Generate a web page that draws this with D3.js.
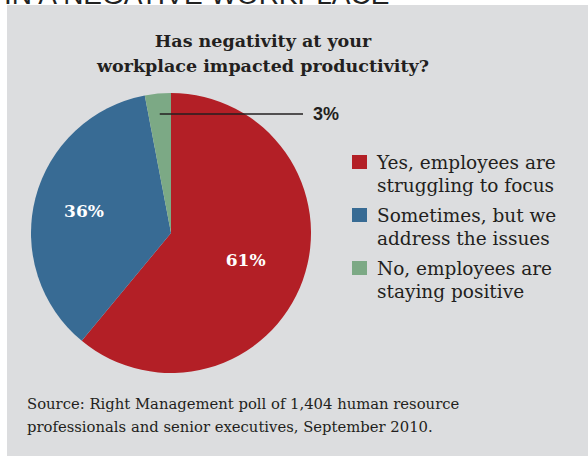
<!DOCTYPE html>
<html>
<head>
<meta charset="utf-8">
<script src="https://cdn.jsdelivr.net/npm/d3@7"></script>
<style>
  html, body { margin:0; padding:0; background:#fff; }
  svg { display:block; }
</style>
</head>
<body>
<div id="chart"></div>
<script>
// data (percent)
const categories = ["Yes", "Sometimes", "No"];
const values = [61, 36, 3];
const legendLines = [
  ["Yes, employees are", "struggling to focus"],
  ["Sometimes, but we", "address the issues"],
  ["No, employees are", "staying positive"]
];
const titleLines = ["Has negativity at your", "workplace impacted productivity?"];
const sourceLines = [
  "Source: Right Management poll of 1,404 human resource",
  "professionals and senior executives, September 2010."
];

const W = 588, H = 456;
const color = d3.scaleOrdinal().domain(categories).range(["#b31f26", "#386b94", "#7ca985"]);
const serif = "'DejaVu Serif', serif";
const sans = "'Liberation Sans', Arial, sans-serif";

const svg = d3.select('#chart').append('svg').attr('width', W).attr('height', H);

// heading above the panel (cut off in the original crop)
svg.append('text').attr('x', 4).attr('y', 4)
  .style('font-family', sans).style('font-size', '28px')
  .attr('fill', '#222').text('IN A NEGATIVE WORKPLACE');

// grey panel
svg.append('rect').attr('x', 7).attr('y', 5).attr('width', W - 7).attr('height', H - 5).attr('fill', '#dcdddf');

// title
svg.append('g').selectAll('text').data(titleLines).enter().append('text')
  .attr('x', 263).attr('y', (d, i) => 47 + i * 25)
  .attr('text-anchor', 'middle')
  .style('font-family', serif).style('font-weight', 'bold').style('font-size', '17.5px')
  .attr('fill', '#231f20').text(d => d);

// pie
const cx = 171, cy = 233, R = 140;
const total = d3.sum(values);
const pie = d3.pie().value(d => d.value).sort(null);
const arc = d3.arc().innerRadius(0).outerRadius(R);
const pieData = pie(categories.map((c, i) => ({ key: c, value: values[i] })));
// bigger slices get their label a bit nearer the centre
const labelPos = d => {
  const r = R * (0.75 - 0.3 * d.data.value / total);
  return d3.arc().innerRadius(r).outerRadius(r).centroid(d);
};

const g = svg.append('g').attr('transform', `translate(${cx},${cy})`);
g.selectAll('path').data(pieData).enter().append('path')
  .attr('d', arc).attr('fill', d => color(d.data.key));

g.selectAll('text.lbl').data(pieData.filter(d => d.data.value > 10)).enter().append('text')
  .attr('class', 'lbl')
  .attr('x', d => labelPos(d)[0])
  .attr('y', d => labelPos(d)[1])
  .attr('dy', '0.35em').attr('text-anchor', 'middle')
  .style('font-family', serif).style('font-weight', 'bold').style('font-size', '17px')
  .attr('fill', '#fff').text(d => d.data.value + '%');

// callout for the small slice
const small = pieData.filter(d => d.data.value <= 10);
small.forEach(d => {
  const mid = (d.startAngle + d.endAngle) / 2;
  const ly = -119;
  const lx = -ly * Math.tan(mid);
  g.append('line').attr('x1', lx).attr('y1', ly).attr('x2', 132).attr('y2', ly)
    .attr('stroke', '#231f20').attr('stroke-width', 1.3);
  g.append('text').attr('x', 142).attr('y', ly).attr('dy', '0.36em')
    .style('font-family', sans).style('font-weight', 'bold').style('font-size', '18px')
    .attr('fill', '#231f20').text(d.data.value + '%');
});

// legend
const lg = svg.append('g').attr('transform', 'translate(352,0)');
const item = lg.selectAll('g').data(categories).enter().append('g')
  .attr('transform', (d, i) => `translate(0,${155 + i * 53})`);
item.append('rect').attr('width', 15).attr('height', 14).attr('fill', d => color(d));
item.each(function(d, i) {
  d3.select(this).selectAll('text').data(legendLines[i]).enter().append('text')
    .attr('x', 25).attr('y', (t, j) => 14 + j * 23)
    .style('font-family', serif).style('font-size', '18.5px')
    .attr('fill', '#231f20').text(t => t);
});

// source
svg.append('g').selectAll('text').data(sourceLines).enter().append('text')
  .attr('x', 27).attr('y', (d, i) => 409 + i * 23)
  .style('font-family', serif).style('font-size', '14.8px')
  .attr('fill', '#231f20').text(d => d);
</script>
</body>
</html>
